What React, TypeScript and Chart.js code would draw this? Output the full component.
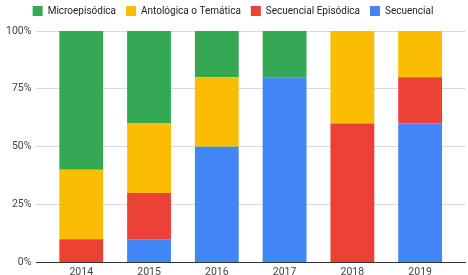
import React, { useEffect, useRef } from "react";
import { Chart, registerables } from "chart.js";
Chart.register(...registerables);

const years = ["2014", "2015", "2016", "2017", "2018", "2019"];
const secuencial = [0, 10, 50, 80, 0, 60];
const secuencialEpisodica = [10, 20, 0, 0, 60, 20];
const antologica = [30, 30, 30, 0, 40, 20];
const microepisodica = [60, 40, 20, 20, 0, 0];
const yTicks = [0, 25, 50, 75, 100];

const FONT = "Roboto, Arial, sans-serif";

const legendGap = {
  id: "legendGap",
  beforeInit(chart: any) {
    const legend = chart.legend;
    if (!legend) return;
    const fit = legend.fit;
    legend.fit = function () {
      fit.call(this);
      this.height += 5;
    };
  },
};

export default function App() {
  const ref = useRef<HTMLCanvasElement>(null);
  useEffect(() => {
    document.body.style.margin = "0";
    const first = Number(years[0]);
    const last = Number(years[years.length - 1]);
    const chart = new Chart(ref.current!, {
      type: "bar",
      plugins: [legendGap],
      data: {
        labels: years,
        datasets: [
          { label: "Secuencial", data: secuencial, backgroundColor: "#4285f4" },
          { label: "Secuencial Episódica", data: secuencialEpisodica, backgroundColor: "#ea4335" },
          { label: "Antológica o Temática", data: antologica, backgroundColor: "#fbbc04" },
          { label: "Microepisódica", data: microepisodica, backgroundColor: "#34a853" },
        ],
      },
      options: {
        animation: false,
        responsive: false,
        maintainAspectRatio: false,
        layout: { padding: { left: 1, right: 3, top: -4, bottom: -8 } },
        datasets: { bar: { categoryPercentage: 0.647, barPercentage: 1 } },
        plugins: {
          legend: {
            reverse: true,
            position: "top",
            labels: {
              boxWidth: 10,
              boxHeight: 10,
              padding: 10,
              color: "#222",
              font: { family: FONT, size: 10 },
            },
          },
          tooltip: { enabled: false },
        },
        scales: {
          x: {
            type: "linear",
            stacked: true,
            offset: false,
            min: first - 0.662,
            max: last + 0.662,
            grid: { display: false, offset: false, drawTicks: false },
            border: { color: "#333" },
            ticks: {
              stepSize: 1,
              includeBounds: false,
              padding: 4,
              color: "#444",
              font: { family: FONT, size: 10.5 },
              callback: (v: any) => String(v),
            },
          },
          y: {
            stacked: true,
            min: 0,
            max: 100,
            afterBuildTicks: (s: any) => {
              s.ticks = yTicks.map((v) => ({ value: v }));
            },
            ticks: {
              padding: 5,
              color: "#444",
              font: { family: FONT, size: 10.5 },
              callback: (v: any) => v + "%",
            },
            grid: { color: "#d9d9d9", drawTicks: false },
            border: { display: false },
          },
        },
      },
    });
    return () => chart.destroy();
  }, []);
  return (
    <div style={{ width: 468, height: 275 }}>
      <canvas ref={ref} width={468} height={275} style={{ display: "block" }} />
    </div>
  );
}
